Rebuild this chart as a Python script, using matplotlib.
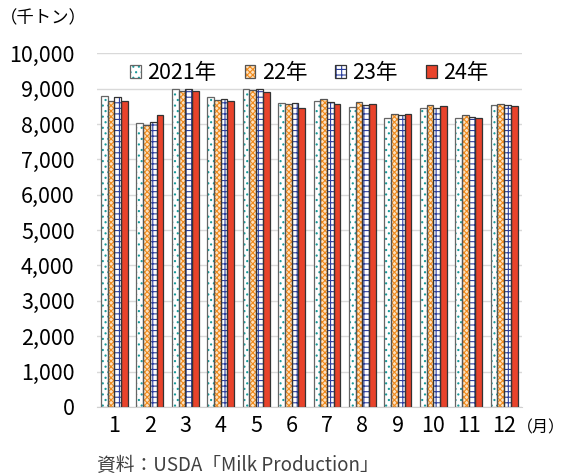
import numpy as np
import matplotlib
matplotlib.use("Agg")
import matplotlib.pyplot as plt
from matplotlib.patches import Patch
from matplotlib.legend_handler import HandlerTuple

plt.rcParams['font.family'] = ['Noto Sans CJK JP', 'DejaVu Sans']
plt.rcParams['hatch.linewidth'] = 0.8

# monthly milk production (thousand tonnes)
months = ['1', '2', '3', '4', '5', '6', '7', '8', '9', '10', '11', '12']
series_names = ['2021年', '22年', '23年', '24年']
y2021 = [8790, 8030, 8985, 8773, 9000, 8592, 8660, 8490, 8178, 8442, 8168, 8527]
y2022 = [8640, 7975, 8945, 8688, 8960, 8575, 8697, 8620, 8280, 8536, 8263, 8575]
y2023 = [8762, 8050, 8990, 8716, 9000, 8592, 8612, 8547, 8244, 8462, 8196, 8547]
y2024 = [8660, 8250, 8925, 8660, 8915, 8442, 8575, 8575, 8280, 8499, 8159, 8507]

styles = [
    dict(facecolor='white', edgecolor='#1a9a9a', hatch='...', border='#666666'),
    dict(facecolor='#fde2c0', edgecolor='#f08a1c', hatch='xxxxxx', border='#555555'),
    dict(facecolor='white', edgecolor='#2b3f9e', hatch='+++', border='#333333'),
    dict(facecolor='#e8432b', edgecolor='#e8432b', hatch=None, border='#333333'),
]

fig = plt.figure(figsize=(5.66, 4.74), dpi=100)
ax = fig.add_axes([0.171, 0.1414, 0.751, 0.7462])

x = np.arange(len(months))
w = 0.19
handles = []
for i, (vals, st) in enumerate(zip([y2021, y2022, y2023, y2024], styles)):
    pos = x + (i - 1.5) * w
    ax.bar(pos, vals, width=w, color=st['facecolor'], edgecolor=st['edgecolor'],
           hatch=st['hatch'], linewidth=0, zorder=2)
    # outline drawn separately so hatch colour stays separate
    ax.bar(pos, vals, width=w, facecolor='none', edgecolor=st['border'],
           linewidth=0.9, zorder=3)
    handles.append((Patch(facecolor=st['facecolor'], edgecolor=st['edgecolor'],
                          hatch=st['hatch'], linewidth=0),
                    Patch(facecolor='none', edgecolor=st['border'], linewidth=0.9)))

ax.set_xlim(-0.5, len(months) - 0.5)
ax.set_ylim(0, 10000)
ax.set_yticks(np.arange(0, 10001, 1000))
ax.set_yticklabels([f'{v:,}' for v in range(0, 10001, 1000)], fontsize=15.5)
ax.set_xticks(x)
ax.set_xticklabels(months, fontsize=15.5)
ax.tick_params(length=0, pad=6)
ax.tick_params(axis='y', pad=16)
ax.yaxis.grid(True, color='#d9d9d9', linewidth=1, zorder=0)
ax.set_axisbelow(True)
for s in ['top', 'right', 'left']:
    ax.spines[s].set_visible(False)
ax.spines['bottom'].set_color('#d0d0d0')

ax.legend(handles, series_names, loc='center', bbox_to_anchor=(0.5, 0.944), ncol=4,
          frameon=False, fontsize=15.5, handlelength=0.5, handleheight=0.5,
          handletextpad=0.3, columnspacing=1.3, borderpad=0.2,
          handler_map={tuple: HandlerTuple(ndivide=1, pad=0)})

fig.text(0.0, 0.962, '（千トン）', fontsize=12.5, va='center', ha='left')
fig.text(0.914, 0.097, '（月）', fontsize=11.5, va='center', ha='left')
fig.text(0.171, 0.019, '資料：USDA「Milk Production」', fontsize=13.5, va='center',
         ha='left', color='#404040')

fig.savefig('out.png', dpi=100)
